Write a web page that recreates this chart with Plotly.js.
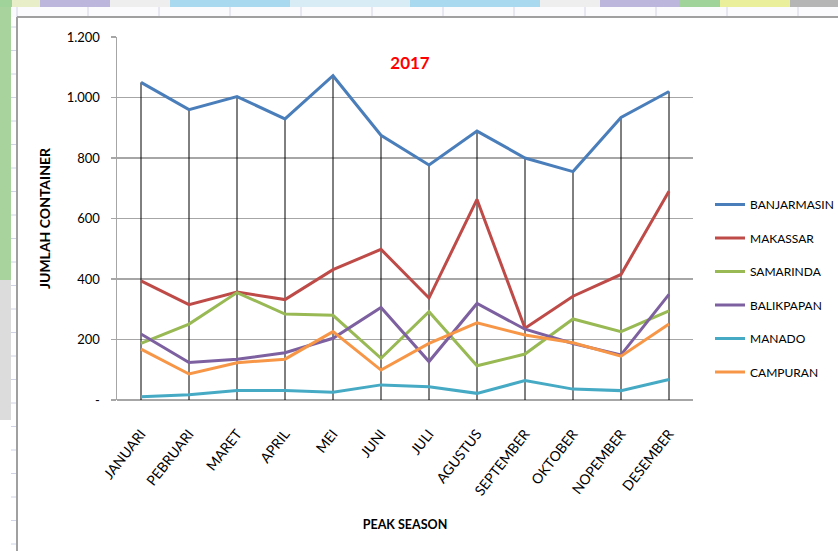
<!DOCTYPE html>
<html>
<head>
<meta charset="utf-8">
<script src="https://cdn.plot.ly/plotly-3.0.1.min.js"></script>
<style>html,body{margin:0;padding:0;background:#fff;}#chart{width:838px;height:551px;}</style>
</head>
<body>
<div id="chart"></div>
<script>
// ---- data ----
var months = ["JANUARI","PEBRUARI","MARET","APRIL","MEI","JUNI","JULI","AGUSTUS","SEPTEMBER","OKTOBER","NOPEMBER","DESEMBER"];
var banjarmasin = [1050, 960, 1003, 929, 1072, 875, 777, 889, 800, 755, 934, 1020];
var makassar    = [394, 315, 357, 332, 431, 498, 337, 663, 237, 343, 415, 690];
var samarinda   = [187, 251, 355, 284, 280, 138, 292, 113, 152, 268, 226, 295];
var balikpapan  = [218, 124, 135, 156, 204, 306, 127, 319, 234, 187, 149, 349];
var manado      = [11, 17, 31, 31, 26, 50, 44, 22, 64, 36, 31, 68];
var campuran    = [168, 86, 123, 135, 226, 99, 187, 255, 215, 189, 145, 251];
var seriesNames = ["BANJARMASIN","MAKASSAR","SAMARINDA","BALIKPAPAN","MANADO","CAMPURAN"];
var yTickVals = [0, 200, 400, 600, 800, 1000, 1200];
var yTickText = ["-", "200", "400", "600", "800", "1.000", "1.200"];

var seriesData = [banjarmasin, makassar, samarinda, balikpapan, manado, campuran];
var colors = ["#4A7EBB", "#BE4B48", "#98B954", "#7D60A0", "#46AAC5", "#F79646"];

// drop lines: from axis to highest point of each category
var dropX = [], dropY = [];
months.forEach(function (m, i) {
  var mx = Math.max.apply(null, seriesData.map(function (s) { return s[i]; }));
  dropX.push(m, m, null);
  dropY.push(0, mx, null);
});

var traces = [{
  x: dropX, y: dropY, mode: "lines", type: "scatter",
  line: {color: "#000000", width: 1}, showlegend: false, hoverinfo: "skip"
}];
seriesData.forEach(function (s, k) {
  traces.push({
    x: months, y: s, name: seriesNames[k], type: "scatter", mode: "lines",
    legendgroup: "g" + k,
    line: {color: colors[k], width: 3}
  });
});

// ---- decoration (spreadsheet background) ----
var L = 117, T = 37, W = 576, H = 363;
function px(x) { return (x - L) / W; }
function py(y) { return (T + H - y) / H; }
function rect(x0, y0, x1, y1, fill) {
  return {type: "rect", xref: "paper", yref: "paper", x0: px(x0), x1: px(x1), y0: py(y1), y1: py(y0),
          fillcolor: fill, line: {width: 0}, layer: "below"};
}
function line(x0, y0, x1, y1, col, w) {
  return {type: "line", xref: "paper", yref: "paper", x0: px(x0), x1: px(x1), y0: py(y0), y1: py(y1),
          line: {color: col, width: w}, layer: "below"};
}
var shapes = [];
var strip = [[0,12,"#9fd39a"],[12,40,"#e8efc8"],[40,110,"#bdb6dc"],[110,170,"#eeeeee"],[170,290,"#a9d9ef"],
             [290,410,"#d8ecf6"],[410,540,"#a9d9ef"],[540,600,"#eeeeee"],[600,680,"#bdb6dc"],[680,720,"#9fd39a"],
             [720,790,"#e9ef9a"],[790,838,"#b5b5b5"]];
strip.forEach(function (s) { shapes.push(rect(s[0], 0, s[1], 7, s[2])); });
shapes.push(rect(0, 7, 838, 17, "#fbfbfd"));
for (var gx = 17; gx < 838; gx += 71) shapes.push(line(gx, 7, gx, 17, "#d0d4e6", 1));
shapes.push(rect(0, 7, 11, 280, "#a8d39c"));
shapes.push(rect(0, 280, 11, 420, "#dcdcdc"));
for (var gy = 27; gy < 551; gy += 23.5) shapes.push(line(11, gy, 17, gy, "#d0d4e6", 1));
shapes.push(line(17, 17, 838, 17, "#a0a0a0", 2));
shapes.push(line(17, 17, 17, 551, "#a0a0a0", 2));

var font = "Lato, 'Open Sans', sans-serif";
var layout = {
  width: 838, height: 551,
  margin: {l: L, r: 838 - L - W, t: T, b: 551 - T - H, pad: 0, autoexpand: false},
  paper_bgcolor: "#ffffff", plot_bgcolor: "#ffffff",
  font: {family: font, size: 12, color: "#000000"},
  title: {text: "<b>2017</b>", font: {family: font, size: 17, color: "#ff0000"},
          x: 410 / 838, xref: "container", xanchor: "center",
          y: 1 - 63 / 551, yref: "container", yanchor: "middle"},
  xaxis: {
    type: "category", range: [-0.5, 11.5], tickangle: -52,
    showgrid: false, showline: false, zeroline: false, ticks: "",
    ticklabelstandoff: 22,
    tickfont: {family: font, size: 14, color: "#000"},
    title: {text: "<b>PEAK SEASON</b>", font: {family: font, size: 12.5, color: "#000"}, standoff: 22},
    automargin: false
  },
  yaxis: {
    range: [0, 1200], tickmode: "array", tickvals: yTickVals, ticktext: yTickText,
    showgrid: true, gridcolor: "#a6a6a6", gridwidth: 1.5,
    showline: true, linecolor: "#a6a6a6", linewidth: 1.5,
    ticks: "outside", ticklen: 5, tickcolor: "#a6a6a6", tickwidth: 1.5,
    ticklabelstandoff: 8,
    zeroline: true, zerolinecolor: "#a6a6a6", zerolinewidth: 1.5,
    tickfont: {family: font, size: 13, color: "#000"},
    title: {text: "<b>JUMLAH CONTAINER</b>", font: {family: font, size: 14, color: "#000"}, standoff: 13},
    automargin: false
  },
  legend: {
    x: px(710), xanchor: "left", y: py(190), yanchor: "top",
    bgcolor: "rgba(0,0,0,0)", borderwidth: 0,
    font: {family: font, size: 12, color: "#000"},
    tracegroupgap: 14.5, itemwidth: 30
  },
  shapes: shapes,
  showlegend: true
};

Plotly.newPlot("chart", traces, layout, {displayModeBar: false, staticPlot: true});
</script>
</body>
</html>
